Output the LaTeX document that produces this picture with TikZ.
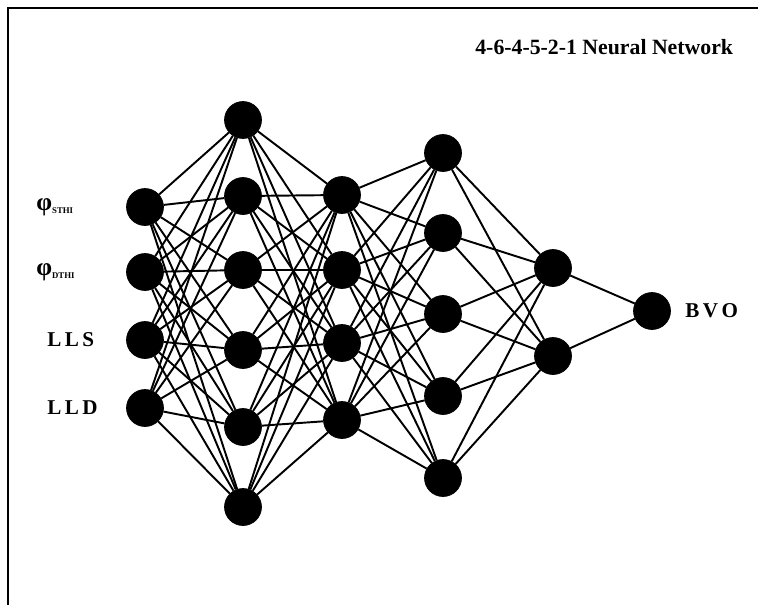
\documentclass[tikz,border=0pt]{standalone}
\usepackage{fontspec}
\setmainfont{Liberation Serif}
\usetikzlibrary{positioning}
\tikzset{neuron/.style={circle,fill=black,draw,minimum size=0.74cm,inner sep=0pt},synapse/.style={line width=1.1pt},tag/.style={font=\bfseries\large,inner sep=0pt}}

\begin{document}
\begin{tikzpicture}[x=0.02cm,y=-0.02cm]
    \useasboundingbox (0,0) rectangle (758,605);
    \draw[line width=1.3pt] (8,605) -- (8,8) -- (758,8);
    % layers
    \foreach \y [count=\i] in {207,272,340,408} \node[neuron] (a\i) at (145,\y) {};
    \foreach \y [count=\i] in {120,196,270,350,427,507} \node[neuron] (b\i) at (243,\y) {};
    \foreach \y [count=\i] in {195,270,343,420} \node[neuron] (c\i) at (342,\y) {};
    \foreach \y [count=\i] in {153,233,314,396,478} \node[neuron] (d\i) at (443,\y) {};
    \foreach \y [count=\i] in {268,356} \node[neuron] (e\i) at (553,\y) {};
    \node[neuron] (out) at (652,311) {};
    % connections
    \foreach \i in {1,...,4} \foreach \j in {1,...,6} \draw[synapse] (a\i) -- (b\j);
    \foreach \i in {1,...,6} \foreach \j in {1,...,4} \draw[synapse] (b\i) -- (c\j);
    \foreach \i in {1,...,4} \foreach \j in {1,...,5} \draw[synapse] (c\i) -- (d\j);
    \foreach \i in {1,...,5} \foreach \j in {1,2} \draw[synapse] (d\i) -- (e\j);
    \foreach \i in {1,2} \draw[synapse] (e\i) -- (out);
    % labels
    \node[tag,anchor=west,font=\bfseries\fontsize{12.4}{15}\selectfont] (title) at (475,47) {4-6-4-5-2-1 Neural Network};
    \node[tag,anchor=west] (sthi) at (36,207) {{\Large φ}\textsubscript{\tiny STHI}};
    \node[tag,anchor=west] (dthi) at (36,272) {{\Large φ}\textsubscript{\tiny DTHI}};
    \node[tag,anchor=west] (lls) at (47,340) {L\,L\,S};
    \node[tag,anchor=west] (lld) at (47,408) {L\,L\,D};
    \node[tag,anchor=west] (bvo) at (685,311) {B\,V\,O};
\end{tikzpicture}
\end{document}
